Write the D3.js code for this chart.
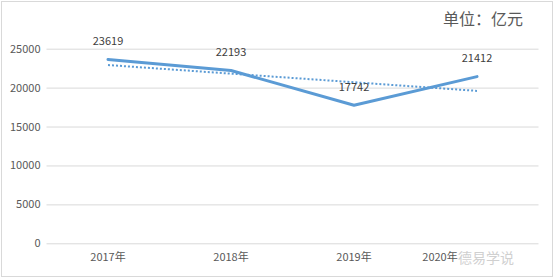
<!DOCTYPE html>
<html>
<head>
<meta charset="utf-8">
<script src="https://cdn.jsdelivr.net/npm/d3@7"></script>
<style>
  html, body { margin: 0; padding: 0; background: #fff; }
  svg text { font-family: "Noto Sans CJK SC", "Noto Sans", sans-serif; }
</style>
</head>
<body>
<svg width="554" height="278"></svg>
<script>
// values
var years = ["2017年", "2018年", "2019年", "2020年"];
var amounts = [23619, 22193, 17742, 21412];
var yTicks = [0, 5000, 10000, 15000, 20000, 25000];
// linear trend line ends, as seen in the chart
var trendYears = ["2017年", "2020年"];
var trendValues = [22902, 19581];
var unitLabel = "单位：亿元";

var svg = d3.select("svg");
var pxX = +svg.attr("width");
var pxY = +svg.attr("height");

// outer frame
svg.append("rect")
    .attr("x", 1.5).attr("y", 1.5)
    .attr("width", pxX - 3).attr("height", pxY - 3)
    .attr("fill", "#fff").attr("stroke", "#d9d9d9");

var scX = d3.scaleBand().domain(years).range([46.5, 538.5]);
var scY = d3.scaleLinear().domain([0, 25000]).range([243.3, 48.7]);
var cx = d => scX(d) + scX.bandwidth() / 2;

// gridlines + y labels via axis
var yAxis = svg.append("g")
    .attr("transform", "translate(46.5,0)")
    .call(d3.axisLeft(scY).tickValues(yTicks)
        .tickSize(-(538.5 - 46.5)).tickPadding(6).tickFormat(d3.format("d")));
yAxis.select(".domain").remove();
yAxis.selectAll("line").attr("stroke", "#d9d9d9");
yAxis.selectAll("text")
    .attr("fill", "#595959").attr("font-size", "11px")
    .attr("font-family", "Noto Sans CJK SC");

// x labels
var xAxis = svg.append("g")
    .attr("transform", "translate(0,243.3)")
    .call(d3.axisBottom(scX).tickSize(0).tickPadding(10));
xAxis.select(".domain").remove();
xAxis.selectAll("text")
    .attr("fill", "#595959").attr("font-size", "11px")
    .attr("font-family", "Noto Sans CJK SC")
    .attr("dx", (d, i) => i === years.length - 1 ? -37 : 0);

// trend line (dotted)
var trendData = trendYears.map((y, i) => ({ x: y, v: trendValues[i] }));
svg.append("path")
    .attr("fill", "none")
    .attr("stroke", "#5B9BD5")
    .attr("stroke-width", 2)
    .attr("stroke-dasharray", "2,2")
    .attr("d", d3.line().x(d => cx(d.x)).y(d => scY(d.v))(trendData));

// main line
var data = years.map((y, i) => ({ x: y, v: amounts[i] }));
svg.append("path")
    .attr("fill", "none")
    .attr("stroke", "#5B9BD5")
    .attr("stroke-width", 3)
    .attr("stroke-linejoin", "round")
    .attr("stroke-linecap", "round")
    .attr("d", d3.line().x(d => cx(d.x)).y(d => scY(d.v))(data));

// data labels
svg.append("g").selectAll("text")
    .data(data).enter()
    .append("text")
    .attr("x", d => cx(d.x))
    .attr("y", d => scY(d.v) - 18)
    .attr("dy", "0.35em")
    .attr("text-anchor", "middle")
    .attr("fill", "#404040")
    .attr("font-size", "11px")
    .text(d => d.v);

// unit label
svg.append("text")
    .attr("x", 443).attr("y", 19)
    .attr("dy", "0.35em")
    .attr("fill", "#595959")
    .attr("font-size", "16px")
    .text(unitLabel);

// faint watermark
svg.append("text")
    .attr("x", 486).attr("y", 258)
    .attr("dy", "0.35em")
    .attr("text-anchor", "middle")
    .attr("fill", "#d0d0d0")
    .attr("font-size", "14px")
    .text("德易学说");
</script>
</body>
</html>
